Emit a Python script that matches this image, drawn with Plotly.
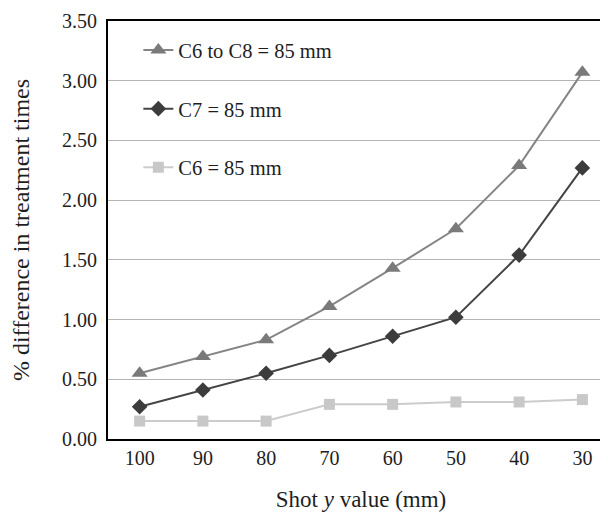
import plotly.graph_objects as go

shot_y = ["100", "90", "80", "70", "60", "50", "40", "30"]
c6_to_c8 = [0.55, 0.69, 0.83, 1.11, 1.43, 1.76, 2.29, 3.07]
c7 = [0.27, 0.41, 0.55, 0.70, 0.86, 1.02, 1.54, 2.27]
c6 = [0.15, 0.15, 0.15, 0.29, 0.29, 0.31, 0.31, 0.33]
y_ticks = [0.0, 0.5, 1.0, 1.5, 2.0, 2.5, 3.0, 3.5]

FONT = "Liberation Serif"
TXT = "#1e1e1e"

fig = go.Figure()
fig.add_trace(go.Scatter(
    x=shot_y, y=c6_to_c8, mode="lines+markers", name="C6 to C8 = 85 mm",
    legendgroup="a",
    line=dict(color="#858585", width=2),
    marker=dict(symbol="triangle-up", size=14, color="#7a7a7a"),
))
fig.add_trace(go.Scatter(
    x=shot_y, y=c7, mode="lines+markers", name="C7 = 85 mm",
    legendgroup="b",
    line=dict(color="#444444", width=2),
    marker=dict(symbol="diamond", size=12, color="#3c3c3c"),
))
fig.add_trace(go.Scatter(
    x=shot_y, y=c6, mode="lines+markers", name="C6 = 85 mm",
    legendgroup="c",
    line=dict(color="#cccccc", width=2),
    marker=dict(symbol="square", size=11, color="#c8c8c8"),
))

# inward tick marks on the category axis, placed at each category
for cat in shot_y:
    fig.add_shape(
        type="line", xref="x", yref="y domain",
        x0=cat, x1=cat, y0=0, y1=0.024,
        line=dict(color="#222222", width=2), layer="above",
    )

fig.update_layout(
    width=608, height=504,
    margin=dict(l=100, r=2, t=13, b=73, autoexpand=False),
    paper_bgcolor="white", plot_bgcolor="white",
    font=dict(family=FONT, size=20, color=TXT),
    showlegend=True,
    legend=dict(
        x=0.06, y=0.978, xanchor="left", yanchor="top",
        bgcolor="rgba(0,0,0,0)", borderwidth=0,
        traceorder="grouped", tracegroupgap=29,
        font=dict(family=FONT, size=20.5, color=TXT),
    ),
    xaxis=dict(
        type="category", range=[-0.5, 7.5],
        showline=True, linecolor="black", linewidth=2, mirror=True,
        ticks="", showgrid=False, zeroline=False,
        tickfont=dict(family=FONT, size=20, color=TXT),
        title=dict(text="Shot <i>y</i> value (mm)", standoff=23,
                   font=dict(family=FONT, size=23, color=TXT)),
    ),
    yaxis=dict(
        range=[0, 3.5], tickvals=y_ticks, tickformat=".2f",
        showline=True, linecolor="black", linewidth=2,
        ticks="", showgrid=True, gridcolor="#b4b4b4", gridwidth=1,
        zeroline=False, ticklabelstandoff=5,
        tickfont=dict(family=FONT, size=20, color=TXT),
        title=dict(text="% difference in treatment times", standoff=26,
                   font=dict(family=FONT, size=24, color=TXT)),
    ),
)

fig.write_html("out.html")
